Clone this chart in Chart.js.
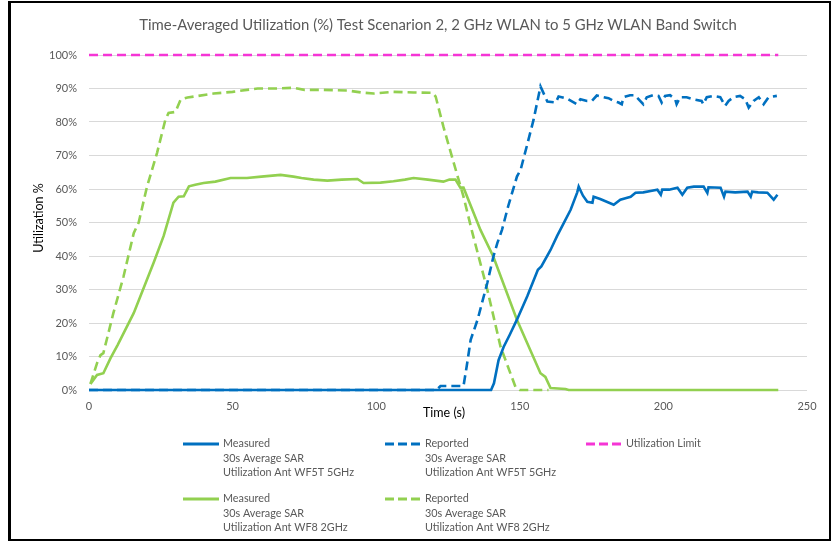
<!DOCTYPE html>
<html>
<head>
<meta charset="utf-8">
<script src="https://cdn.jsdelivr.net/npm/chart.js@4/dist/chart.umd.min.js"></script>
<style>
  html, body { margin: 0; padding: 0; background: #fff; }
  #wrap { width: 833px; height: 544px; position: relative; }
</style>
</head>
<body>
<div id="wrap"><canvas id="chart"></canvas></div>
<script>
// values (time in s, utilization in %)
const meas5Time = [0, 140, 141, 142.6, 144.4, 146.5, 149, 152.6, 156.3, 157.5, 160.7, 163, 165.3, 167.7, 170, 170.5, 172, 173.5, 175.3, 175.7, 178, 182.7, 185, 187.4, 188.6, 190.3, 193, 196, 197.9, 199.1, 199.6, 202, 204.9, 206.6, 208.3, 210.6, 214, 215.3, 215.7, 219.9, 221.1, 221.6, 225, 229.3, 230.4, 230.9, 233, 236.2, 238.4, 239.7]
const meas5Vals = [0, 0, 2, 8.9, 12.9, 16.5, 21, 28, 35.9, 36.9, 41.8, 46, 49.8, 53.8, 59, 60.7, 58, 56.2, 55.9, 57.7, 57, 55.3, 56.8, 57.4, 57.7, 58.9, 59, 59.5, 59.8, 58.3, 59.8, 59.8, 60.4, 58.3, 60.4, 60.7, 60.7, 58.8, 60.5, 60.4, 57.7, 59.2, 59, 59.2, 57.7, 59.2, 59, 58.9, 56.8, 58.3]

const rep5Time = [0, 121, 122.4, 130.4, 131.5, 132.9, 135.3, 138.7, 140.8, 142.2, 143.8, 146, 149, 150.3, 152.5, 154.8, 157.2, 159.6, 162.5, 163.5, 166.4, 169.9, 171.1, 173.4, 175.1, 176.8, 179.2, 180.9, 182.6, 184.4, 185.5, 186.1, 188.4, 190.1, 191.9, 193, 194.2, 196.5, 198.3, 199.4, 200.6, 202.3, 204.1, 204.6, 205.8, 208.1, 210.4, 213.3, 213.9, 215.1, 217.4, 219.8, 221.5, 222.7, 224.4, 226.7, 228.5, 229.7, 231.4, 233.2, 234.9, 236.6, 239.5]
const rep5Vals = [0, 0, 1.2, 1.2, 7, 15, 21, 32, 39.8, 43.9, 47.8, 55, 63.7, 65.8, 73, 80.7, 90.6, 86.1, 85.8, 87.6, 87, 85.3, 86.8, 86.3, 86.3, 87.9, 87.4, 87.1, 86.3, 85.8, 85.3, 87.4, 88, 88, 86.3, 85.3, 87.4, 88, 87.8, 85.8, 87.8, 88, 86.8, 85.3, 87.4, 87.4, 86.8, 86.3, 85.3, 87.4, 87.8, 87.4, 84.8, 86.3, 87.4, 87.8, 86.8, 84.3, 86.3, 87.4, 85.3, 87.4, 87.8]

const limitTime = [0, 240]
const limitVals = [100, 100]

const meas2Time = [0.5, 2.8, 5, 7.5, 10, 15.6, 22.5, 26, 29.4, 31.2, 33, 34.8, 37, 39.9, 44, 49.3, 55, 60, 66.7, 71.2, 74, 78.2, 83, 88, 93.5, 95.6, 101.5, 106, 110, 113, 118, 123.4, 125.5, 127.6, 129.3, 130.4, 136.3, 140.8, 149, 157.2, 158.9, 160.7, 165.9, 167, 240]
const meas2Vals = [1.8, 4.5, 5, 9.5, 13.5, 23, 38, 46, 55.9, 57.7, 57.8, 60.8, 61.3, 61.8, 62.2, 63.3, 63.3, 63.7, 64.2, 63.7, 63.3, 62.8, 62.5, 62.8, 63, 61.8, 61.9, 62.3, 62.8, 63.3, 62.8, 62.2, 62.8, 62.8, 60.4, 60.4, 47.8, 39.8, 21, 5, 3.9, 0.6, 0.3, 0, 0]

const rep2Time = [0.5, 2.8, 4, 5, 8.5, 12, 15.6, 17.3, 20.2, 23.7, 26.6, 27.7, 30.1, 31.9, 34.3, 43.4, 50, 58.7, 65, 71.2, 75, 80.6, 90, 95, 99.1, 106, 113, 119.6, 120.7, 123.4, 127, 130.4, 133.5, 138.7, 143.3, 148.5, 150, 160]
const rep2Vals = [1.8, 8, 10.4, 11, 23, 33.8, 46.9, 50, 60.7, 70.8, 80.7, 82.7, 83, 86.7, 87.3, 88.5, 89, 90, 90, 90.2, 89.6, 89.6, 89.4, 88.8, 88.5, 89, 88.8, 88.7, 87.6, 78.6, 67.8, 57.7, 46.9, 29.9, 12.9, 0.9, 0, 0]

const xTicks = [0, 50, 100, 150, 200, 250]
const titleText = 'Time-Averaged Utilization (%) Test Scenarion 2, 2 GHz WLAN to 5 GHz WLAN Band Switch'
const legendLabels = [
  ['Measured', '30s Average SAR', 'Utilization Ant WF5T 5GHz'],
  ['Reported', '30s Average SAR', 'Utilization Ant WF5T 5GHz'],
  ['Utilization Limit'],
  ['Measured', '30s Average SAR', 'Utilization Ant WF8 2GHz'],
  ['Reported', '30s Average SAR', 'Utilization Ant WF8 2GHz']
]

const blue = '#0070C0'
const green = '#92D050'
const pink = '#F535D5'
const FONT = 'Lato, "Open Sans", sans-serif'

function pts(t, v){
  return t.map((x, i) => ({x: x, y: v[i]}))
}

function line(label, t, v, color, dashed){
  return {
    label: label,
    data: pts(t, v),
    borderColor: color,
    backgroundColor: color,
    borderWidth: 2.6,
    borderDash: dashed ? [9, 5] : [],
    pointRadius: 0,
    tension: 0,
    fill: false,
    clip: false
  }
}

const extras = {
  id: 'extras',
  afterDraw(chart){
    const ctx = chart.ctx
    ctx.save()
    // title
    ctx.fillStyle = '#595959'
    ctx.font = '14.9px ' + FONT
    ctx.textAlign = 'center'
    ctx.textBaseline = 'middle'
    ctx.fillText(titleText, 438, 25)
    // axis titles
    ctx.fillStyle = '#000'
    ctx.font = '12.5px ' + FONT
    ctx.fillText('Time (s)', 444, 413)
    ctx.save()
    ctx.translate(39, 218)
    ctx.rotate(-Math.PI / 2)
    ctx.fillText('Utilization %', 0, 0)
    ctx.restore()
    // legend
    const colX = [183, 385, 586]
    const rowY = [444, 499]
    ctx.font = '10.8px ' + FONT
    ctx.textAlign = 'left'
    chart.data.datasets.forEach((ds, i) => {
      const x = colX[i % 3]
      const y = rowY[Math.floor(i / 3)]
      ctx.strokeStyle = ds.borderColor
      ctx.lineWidth = 3
      ctx.setLineDash(ds.borderDash.length ? [9, 4] : [])
      ctx.beginPath()
      ctx.moveTo(x, y)
      ctx.lineTo(x + 36, y)
      ctx.stroke()
      ctx.setLineDash([])
      ctx.fillStyle = '#595959'
      legendLabels[i].forEach((s, k) => {
        ctx.fillText(s, x + 40, y + k * 14.5)
      })
    })
    // frame around picture
    ctx.strokeStyle = '#000'
    ctx.lineWidth = 3
    ctx.beginPath()
    ctx.moveTo(9.5, 2)
    ctx.lineTo(9.5, 541)
    ctx.stroke()
    ctx.lineWidth = 2
    ctx.beginPath()
    ctx.moveTo(8, 2)
    ctx.lineTo(831, 2)
    ctx.moveTo(830, 2)
    ctx.lineTo(830, 541)
    ctx.moveTo(8, 540)
    ctx.lineTo(831, 540)
    ctx.stroke()
    ctx.restore()
  }
}

const chart = new Chart(document.getElementById('chart'), {
  type: 'line',
  data: {
    datasets: [
      line('Measured 30s Average SAR Utilization Ant WF5T 5GHz', meas5Time, meas5Vals, blue, false),
      line('Reported 30s Average SAR Utilization Ant WF5T 5GHz', rep5Time, rep5Vals, blue, true),
      line('Utilization Limit', limitTime, limitVals, pink, true),
      line('Measured 30s Average SAR Utilization Ant WF8 2GHz', meas2Time, meas2Vals, green, false),
      line('Reported 30s Average SAR Utilization Ant WF8 2GHz', rep2Time, rep2Vals, green, true)
    ]
  },
  options: {
    responsive: true,
    maintainAspectRatio: false,
    animation: false,
    layout: { padding: { left: 0, top: 55, right: 26, bottom: 0 } },
    plugins: {
      legend: { display: false },
      title: { display: false },
      tooltip: { enabled: false }
    },
    scales: {
      x: {
        type: 'linear',
        min: 0,
        max: 250,
        afterFit: s => { s.height = 154 },
        afterBuildTicks: s => { s.ticks = xTicks.map(v => ({value: v})) },
        grid: { display: false, drawTicks: false },
        border: { display: false },
        ticks: { color: '#595959', font: { family: FONT, size: 11 }, padding: 10, maxRotation: 0 }
      },
      y: {
        min: 0,
        max: 100,
        afterFit: s => { s.width = 89 },
        grid: { color: '#D9D9D9', lineWidth: 1, drawTicks: false },
        border: { display: false },
        ticks: {
          stepSize: 10,
          color: '#595959',
          font: { family: FONT, size: 11 },
          padding: 12,
          callback: v => v + '%'
        }
      }
    }
  },
  plugins: [extras]
})
</script>
</body>
</html>
